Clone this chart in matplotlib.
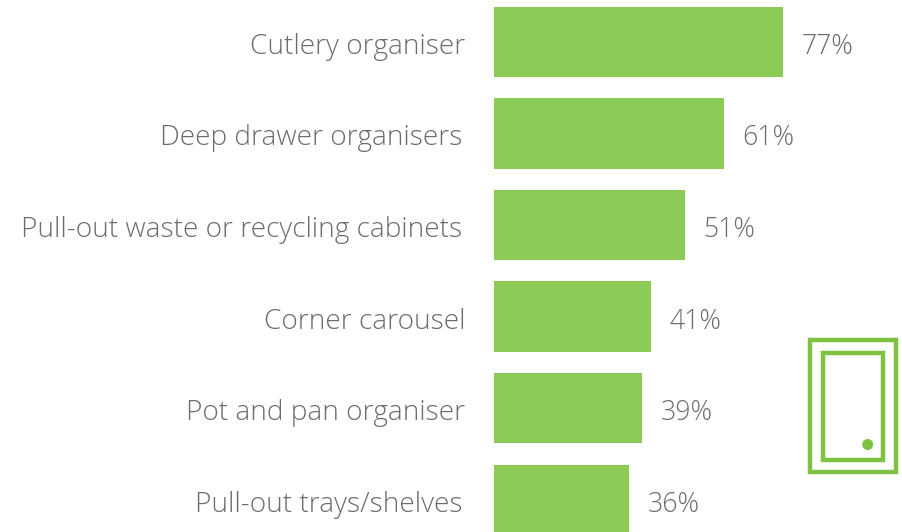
import matplotlib
matplotlib.use("Agg")
import matplotlib.pyplot as plt
from matplotlib.patches import Rectangle, Circle

categories = ["Cutlery organiser", "Deep drawer organisers", "Pull-out waste or recycling cabinets",
              "Corner carousel", "Pot and pan organiser", "Pull-out trays/shelves"]
values = [77, 61.1, 50.8, 41.7, 39.3, 35.8]
value_labels = ["77%", "61%", "51%", "41%", "39%", "36%"]
label_right_px = [465.5, 462.5, 462.5, 465.5, 465.5, 462.5]

W, H = 903, 532
GREEN = "#8CCB55"
TEXT = "#6C6C6C"
plt.rcParams['font.family'] = ['Open Sans', 'DejaVu Sans']

fig = plt.figure(figsize=(W/100, H/100), dpi=100)
ax = fig.add_axes([0, 0, 1, 1])
ax.set_xlim(0, W)
ax.set_ylim(H, 0)
ax.axis('off')

x0 = 494.5
scale = (783.5 - 494.5) / 77
ys = [42, 133.4, 225, 316.6, 408.2, 499.8]
ax.barh(ys, [v * scale for v in values], left=x0, height=70.5, color=GREEN, linewidth=0)
for y, v, c, lab, rp in zip(ys, values, categories, value_labels, label_right_px):
    ax.text(rp, y + 5, c, ha='right', va='center', fontsize=20.2, color=TEXT, fontweight='light')
    ax.text(x0 + v * scale + 18.5, y + 5, lab, ha='left', va='center', fontsize=19.2, color=TEXT, fontweight='light')

ax.add_patch(Rectangle((810, 339.5), 86, 132, fill=False, ec="#7FC241", lw=3.2))
ax.add_patch(Rectangle((823, 352.5), 60, 107, fill=False, ec="#7FC241", lw=3.2))
ax.add_patch(Circle((867.7, 444.5), 5.5, fc="#7FC241", ec='none'))

fig.savefig("out.png", dpi=100)
